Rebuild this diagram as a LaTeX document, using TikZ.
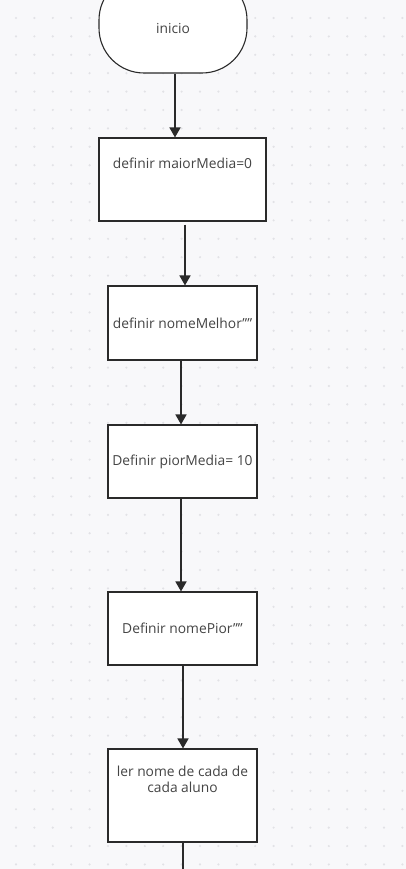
\documentclass[tikz,border=0pt]{standalone}
\usepackage{fontspec}
\setmainfont{Open Sans}
\usetikzlibrary{arrows.meta}
\definecolor{fundo}{HTML}{F8F8FA}
\definecolor{ponto}{HTML}{E2E2E6}
\definecolor{borda}{HTML}{2A2A2A}
\definecolor{letra}{HTML}{444444}
\tikzset{
  texto/.style={text=letra, font=\fontsize{13.8}{16.5}\selectfont, align=center, inner sep=0pt},
  caixa/.style={draw=borda, line width=1.1pt, fill=white, inner sep=0pt, texto},
  terminal/.style={caixa, rounded corners=45pt, minimum width=148pt, minimum height=98pt},
  seta/.style={draw=borda, line width=1.6pt, -{Triangle[width=11pt,length=10pt]}}
}
\begin{document}
\begin{tikzpicture}[x=1pt, y=-1pt]
    % Fundo pontilhado
    \fill[fundo] (0,0) rectangle (406,869);
    \useasboundingbox (0,0) rectangle (406,869);
    \clip (0,0) rectangle (406,869);
    \foreach \i in {0,...,21}
      \foreach \j in {0,...,47}
        \fill[ponto] (16+18.4*\i, 18+18.4*\j) circle (1.2pt);

    % Blocos do fluxograma
    \node[terminal, label={[texto, yshift=-5pt]center:inicio}] (inicio) at (173,24) {};
    \node[caixa, minimum width=167pt, minimum height=83pt,
          label={[texto, anchor=center, yshift=-26pt]north:definir maiorMedia=0}] (defMaior) at (182.5,179.5) {};
    \node[caixa, minimum width=149pt, minimum height=74pt] (defMelhor) at (182.5,323) {\raisebox{-2pt}{definir nomeMelhor””}};
    \node[caixa, minimum width=149pt, minimum height=73pt] (defPior) at (182.5,461.5) {\raisebox{-2pt}{Definir piorMedia= 10}};
    \node[caixa, minimum width=149pt, minimum height=73pt] (defNomePior) at (182.5,628.5) {\raisebox{-3pt}{Definir nomePior””}};
    \node[caixa, minimum width=149pt, minimum height=93pt,
          label={[texto, anchor=center, yshift=-31pt]north:ler nome de cada de\\cada aluno}] (lerNome) at (182.5,795.5) {};
    \coordinate (fim) at (183,880);

    % Ligacoes
    \draw[seta] ([xshift=2pt]inicio.south) -- ([xshift=2pt]inicio.south |- defMaior.north);
    \draw[seta] ([xshift=2.5pt,yshift=-3pt]defMaior.south) -- ([xshift=2.5pt]defMelhor.north);
    \draw[seta] ([xshift=-1.5pt]defMelhor.south) -- ([xshift=-1.5pt]defPior.north);
    \draw[seta] ([xshift=-1.5pt]defPior.south) -- ([xshift=-1.5pt]defNomePior.north);
    \draw[seta] ([xshift=0.5pt]defNomePior.south) -- ([xshift=0.5pt]lerNome.north);
    \draw[draw=borda, line width=1.6pt] (lerNome.south -| fim) -- (fim);
\end{tikzpicture}
\end{document}
